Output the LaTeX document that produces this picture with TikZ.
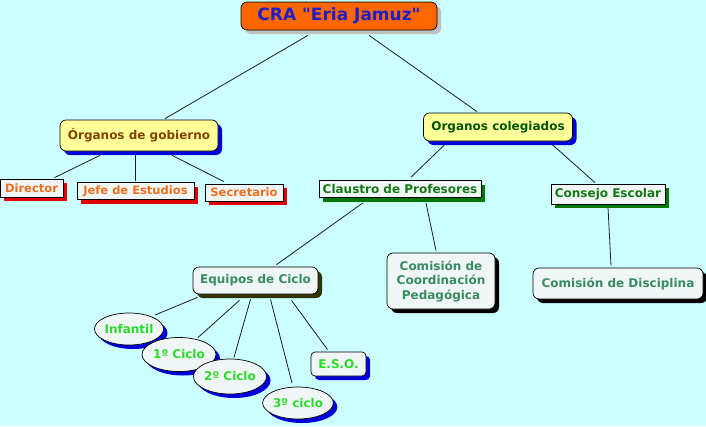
\documentclass[tikz,border=0pt]{standalone}
\usepackage{fontspec}
\setmainfont{DejaVu Sans}[Ligatures=TeXOff]
\usetikzlibrary{shadows,shapes.geometric}
\definecolor{bgcyan}{RGB}{204,255,255}
\definecolor{titleorange}{RGB}{255,102,0}
\definecolor{titleblue}{RGB}{30,30,200}
\definecolor{paleyellow}{RGB}{255,255,153}
\definecolor{paleface}{RGB}{240,245,245}
\definecolor{brownish}{RGB}{130,65,0}
\definecolor{orangetext}{RGB}{240,110,30}
\definecolor{darkgreen}{RGB}{0,85,0}
\definecolor{midgreen}{RGB}{20,120,20}
\definecolor{seagreen}{RGB}{55,140,100}
\definecolor{brightgreen}{RGB}{40,220,40}
\definecolor{shadowblue}{RGB}{0,0,220}
\definecolor{shadowred}{RGB}{225,0,0}
\definecolor{shadowgreen}{RGB}{0,120,0}
\definecolor{shadowolive}{RGB}{50,50,0}
\definecolor{linegray}{RGB}{30,30,30}
\begin{document}
\begin{tikzpicture}[x=1pt,y=-1pt,
  base/.style={draw=black, line width=0.7pt, inner sep=0pt, align=center,
    font=\fontsize{12}{14.5}\selectfont\bfseries},
  shade/.style={drop shadow={shadow xshift=4pt, shadow yshift=-4pt, fill=#1, opacity=1}},
  titlebox/.style={base, rounded corners=6pt, fill=titleorange, text=titleblue,
    font=\fontsize{17}{20}\selectfont\bfseries, shade=black!25},
  yellowbox/.style={base, rounded corners=6pt, fill=paleyellow, shade=shadowblue},
  redbox/.style={base, fill=paleface, text=orangetext, shade=shadowred,
    font=\fontsize{11.5}{14}\selectfont\bfseries},
  greenbox/.style={base, fill=paleface, text=midgreen, shade=shadowgreen},
  roundbox/.style={base, rounded corners=6pt, fill=paleface, text=seagreen},
  cycle/.style={base, ellipse, fill=paleface, text=brightgreen, shade=shadowblue},
  link/.style={draw=linegray, line width=0.8pt}]

\fill[bgcyan] (0,0) rectangle (706,426);
\useasboundingbox (0,0) rectangle (706,426);

\node[titlebox, minimum width=196, minimum height=28] (cra) at (339,16) {CRA "Eria Jamuz"};

\node[yellowbox, text=brownish, minimum width=158, minimum height=31] (gob) at (139,135.5) {Órganos de gobierno};
\node[yellowbox, text=darkgreen, minimum width=149, minimum height=28] (col) at (498,127) {Organos colegiados};

\node[redbox, minimum width=63, minimum height=18] (dir) at (31.5,188) {Director};
\node[redbox, minimum width=117, minimum height=17] (jefe) at (135.5,191) {Jefe de Estudios};
\node[redbox, minimum width=78, minimum height=17] (sec) at (244,192.5) {Secretario};

\node[greenbox, minimum width=162, minimum height=17] (cla) at (400,189) {Claustro de Profesores};
\node[greenbox, minimum width=114, minimum height=20] (con) at (608,194) {Consejo Escolar};

\node[roundbox, shade=shadowolive, minimum width=125, minimum height=27] (equ) at (255.5,280.5) {Equipos de Ciclo};
\node[roundbox, shade=black, minimum width=108, minimum height=56] (ccp) at (441,281) {Comisión de\\Coordinación\\ Pedagógica};
\node[roundbox, shade=black, minimum width=170, minimum height=31] (dis) at (618,283.5) {Comisión de Disciplina};

\node[cycle, minimum width=68, minimum height=32] (inf) at (129,329) {Infantil};
\node[cycle, minimum width=74, minimum height=34] (c1) at (179,354.5) {1º Ciclo};
\node[cycle, minimum width=70, minimum height=35] (c2) at (230,376.5) {2º Ciclo};
\node[cycle, minimum width=68, minimum height=32] (c3) at (298,403) {3º ciclo};
\node[roundbox, rounded corners=4pt, text=brightgreen, shade=shadowblue, minimum width=55, minimum height=24] (eso) at (338.5,364) {E.S.O.};

% connectors
\draw[link] ([xshift=-31pt,yshift=-5pt]cra.south) -- ([xshift=26pt,yshift=1pt]gob.north);
\draw[link] ([xshift=30pt,yshift=-5pt]cra.south) -- ([xshift=-21pt,yshift=1pt]col.north);
\draw[link] ([xshift=-39pt,yshift=-4pt]gob.south) -- ([xshift=23pt,yshift=1pt]dir.north);
\draw[link] ([xshift=-4pt,yshift=-4pt]gob.south) -- ([xshift=-0.5pt,yshift=1pt]jefe.north);
\draw[link] ([xshift=33pt,yshift=-4pt]gob.south) -- ([xshift=-20pt,yshift=2pt]sec.north);
\draw[link] ([xshift=-53pt,yshift=-3pt]col.south) -- ([xshift=11pt,yshift=3pt]cla.north);
\draw[link] ([xshift=54pt,yshift=-3pt]col.south) -- ([xshift=-13pt,yshift=1pt]con.north);
\draw[link] ([xshift=-37pt,yshift=-5pt]cla.south) -- ([xshift=21pt,yshift=2pt]equ.north);
\draw[link] ([xshift=26pt,yshift=-5pt]cla.south) -- ([xshift=-5pt,yshift=2pt]ccp.north);
\draw[link] ([yshift=-3pt]con.south) -- ([xshift=-7pt,yshift=2pt]dis.north);
\draw[link] ([xshift=-58pt,yshift=-3pt]equ.south) -- ([xshift=26pt,yshift=14pt]inf.center);
\draw[link] ([xshift=-16pt,yshift=-6pt]equ.south) -- ([xshift=19pt,yshift=17pt]c1.center);
\draw[link] ([xshift=-5pt,yshift=-5pt]equ.south) -- ([xshift=4pt,yshift=19pt]c2.center);
\draw[link] ([xshift=15pt,yshift=-5pt]equ.south) -- ([xshift=-6pt,yshift=20pt]c3.center);
\draw[link] ([xshift=36pt,yshift=-6pt]equ.south) -- ([xshift=-11pt,yshift=2pt]eso.north);
\end{tikzpicture}
\end{document}
